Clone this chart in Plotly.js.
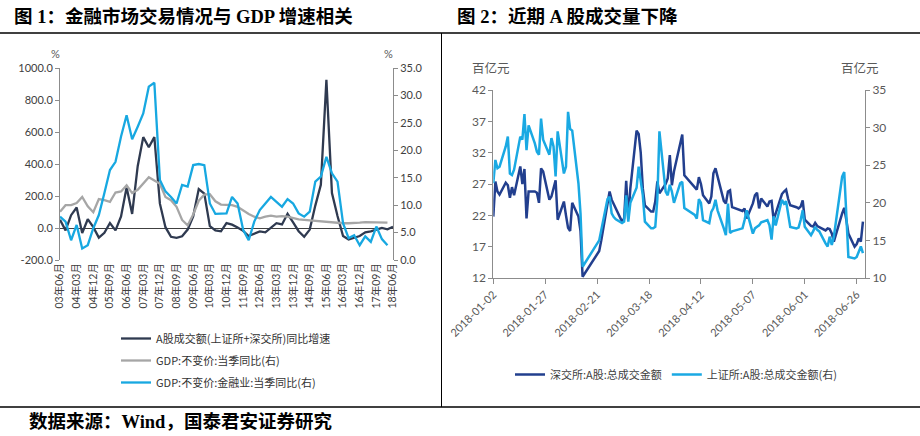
<!DOCTYPE html>
<html><head><meta charset="utf-8">
<script src="https://cdn.plot.ly/plotly-3.0.1.min.js"></script>
<style>html,body{margin:0;padding:0;background:#fff;}#chart{width:920px;height:436px;}</style>
</head><body><div id="chart"></div>
<script>
// ---------- Figure 1: quarterly ----------
const quarters = [
 "03年06月","03年09月","03年12月",
 "04年03月","04年06月","04年09月","04年12月",
 "05年03月","05年06月","05年09月","05年12月",
 "06年03月","06年06月","06年09月","06年12月",
 "07年03月","07年06月","07年09月","07年12月",
 "08年03月","08年06月","08年09月","08年12月",
 "09年03月","09年06月","09年09月","09年12月",
 "10年03月","10年06月","10年09月","10年12月",
 "11年03月","11年06月","11年09月","11年12月",
 "12年03月","12年06月","12年09月","12年12月",
 "13年03月","13年06月","13年09月","13年12月",
 "14年03月","14年06月","14年09月","14年12月",
 "15年03月","15年06月","15年09月","15年12月",
 "16年03月","16年06月","16年09月","16年12月",
 "17年03月","17年06月","17年09月","17年12月",
 "18年03月","18年06月"];
// A股成交额(上证所+深交所)同比增速, % (left axis)
const turnoverYoY = [52,-15,80,128,-32,55,5,-60,-30,31,
 -15,72,254,88,386,568,505,568,152,5,
 -55,-62,-52,-10,73,243,215,12,-15,-21,
 31,21,3,-18,-50,-33,-21,-27,0,30,
 22,89,35,-20,-55,-10,140,270,926,218,
 75,-50,-72,-62,-50,-27,-21,-10,0,-8,8];
// GDP:不变价:当季同比, % (right axis)
const gdpYoY = [8.8,10.0,10.0,10.4,11.5,9.8,8.7,11.1,10.9,10.6,
 12.3,12.5,13.6,12.2,12.8,14.0,15.1,14.5,13.9,11.5,
 10.9,9.7,7.3,6.3,8.3,10.8,11.9,12.0,10.7,10.1,
 10.0,10.0,9.7,9.0,8.4,7.9,7.6,7.9,8.1,7.9,
 8.0,7.9,7.6,7.4,7.3,7.2,7.1,7.0,7.0,6.9,
 6.8,6.7,6.7,6.7,6.8,6.9,6.9,6.8,6.8,6.8];
// GDP:不变价:金融业:当季同比, % (right axis)
const gdpFinYoY = [7.9,7.0,3.6,6.4,2.1,2.7,5.8,8.2,12.2,16.4,
 17.9,22.5,26.4,22.0,24.3,26.7,31.6,32.3,14.6,12.5,
 11.5,10.3,13.7,13.4,17.3,17.5,17.3,10.3,8.4,8.5,
 8.5,11.5,10.3,5.5,3.6,7.0,9.1,10.3,11.5,10.6,
 9.7,11.1,10.3,8.5,7.9,8.8,14.3,15.2,18.8,15.8,
 14.3,6.7,4.0,4.5,2.7,4.3,3.3,6.1,3.8,2.7];
const leftTickVals = [-200,0,200,400,600,800,1000];
const leftTickText = ["-200.0","0.0","200.0","400.0","600.0","800.0","1000.0"];
const rightTickVals = [0,5,10,15,20,25,30,35];
const rightTickText = ["0.0","5.0","10.0","15.0","20.0","25.0","30.0","35.0"];

// ---------- Figure 2: daily 2018 ----------
const tradeDays = [
 "01-02","01-03","01-04","01-05","01-08","01-09","01-10","01-11","01-12","01-15","01-16","01-17","01-18","01-19","01-22","01-23","01-24","01-25","01-26","01-29","01-30","01-31",
 "02-01","02-02","02-05","02-06","02-07","02-08","02-09","02-12","02-13","02-14","02-22","02-23","02-26","02-27","02-28",
 "03-01","03-02","03-05","03-06","03-07","03-08","03-09","03-12","03-13","03-14","03-15","03-16","03-19","03-20","03-21","03-22","03-23","03-26","03-27","03-28","03-29","03-30",
 "04-02","04-03","04-04","04-09","04-10","04-11","04-12","04-13","04-16","04-17","04-18","04-19","04-20","04-23","04-24","04-25","04-26","04-27",
 "05-02","05-03","05-04","05-07","05-08","05-09","05-10","05-11","05-14","05-15","05-16","05-17","05-18","05-21","05-22","05-23","05-24","05-25","05-28","05-29","05-30","05-31",
 "06-01","06-04","06-05","06-06","06-07","06-08","06-11","06-12","06-13","06-14","06-15","06-19","06-20","06-21","06-22","06-25","06-26","06-27","06-28","06-29"];
// 深交所:A股:总成交金额 (百亿元, left axis)
const szseAmount = [
 21.8,27.4,25.8,25.3,27.2,26.8,24.8,26.5,25.2,29.8,27.0,29.4,21.5,25.8,25.8,25.6,24.0,29.5,29.0,24.5,25.0,26.5,
 27.6,21.3,24.2,22.0,20.0,19.5,24.0,21.8,19.5,12.2,16.3,18.0,23.5,25.8,24.5,
 23.8,23.0,21.0,21.5,27.5,21.5,26.3,35.5,35.0,32.0,26.3,23.6,22.6,22.6,24.2,27.4,25.5,27.0,27.9,31.6,26.8,29.0,
 33.5,34.9,28.4,26.5,26.1,28.1,27.0,25.2,23.9,25.0,28.7,29.5,28.2,24.3,23.9,25.8,26.0,23.3,
 22.7,23.1,21.5,23.9,25.2,25.6,23.1,24.7,23.4,24.2,24.3,21.3,22.3,25.4,25.8,26.1,24.6,23.6,23.3,23.1,23.4,24.4,
 21.3,20.3,20.2,20.8,20.3,20.1,19.6,19.9,19.8,19.1,17.8,22.3,23.2,21.3,19.1,17.0,17.4,18.3,17.8,21.0];
// 上证所:A股:总成交金额 (百亿元, right axis)
const sseAmount = [
 22.6,25.7,24.6,24.8,27.5,28.8,23.9,23.7,24.4,28.8,28.4,31.8,27.0,30.3,27.9,26.8,26.4,31.2,28.4,26.4,28.6,27.5,
 23.5,29.5,23.9,24.8,32.1,29.8,29.6,22.6,18.6,11.5,15.0,16.3,20.5,20.8,18.6,
 18.1,17.8,17.3,17.5,21.0,17.5,20.0,22.0,24.8,23.0,21.0,17.5,16.6,16.6,16.8,20.5,29.5,21.5,21.0,22.4,21.5,20.0,
 22.6,22.8,19.3,18.4,17.9,20.5,20.0,17.7,17.3,18.8,19.3,20.4,19.0,16.6,15.7,19.9,16.0,16.2,
 16.6,17.7,19.0,15.9,16.6,16.8,17.0,17.4,17.7,17.0,15.1,18.2,17.0,20.4,19.9,20.2,18.6,16.8,16.6,16.7,17.7,19.0,
 16.8,15.7,16.2,16.8,16.4,16.2,14.6,14.2,15.5,14.4,15.5,23.5,24.1,17.7,12.8,12.6,12.8,13.5,14.2,13.3];
const dateTicks = ["2018-01-02","2018-01-27","2018-02-21","2018-03-18","2018-04-12","2018-05-07","2018-06-01","2018-06-26"];

// ---------- build ----------
const W = 920, H = 436;
const px = x => x / W, py = y => 1 - y / H;
const dates = tradeDays.map(d => "2018-" + d);
const qIndex = quarters.map((q, i) => i);          // category positions on the quarterly axis
const tickFont = "Lato, 'Noto Sans CJK SC', sans-serif";
const cjk = "'Noto Sans CJK SC', Lato, sans-serif";
const serif = "'Liberation Serif', 'Noto Sans CJK SC', serif";

const traces = [
 {x: qIndex, y: turnoverYoY, name: "A股成交额(上证所+深交所)同比增速", type: "scatter", mode: "lines",
  line: {color: "#2F3A50", width: 2.3}, xaxis: "x", yaxis: "y", legend: "legend", legendgroup: "a"},
 {x: qIndex.slice(0, gdpYoY.length), y: gdpYoY, name: "GDP:不变价:当季同比(右)", type: "scatter", mode: "lines",
  line: {color: "#A6A6A6", width: 2.3}, xaxis: "x", yaxis: "y2", legend: "legend", legendgroup: "b"},
 {x: qIndex.slice(0, gdpFinYoY.length), y: gdpFinYoY, name: "GDP:不变价:金融业:当季同比(右)", type: "scatter", mode: "lines",
  line: {color: "#17A8E1", width: 2.3}, xaxis: "x", yaxis: "y2", legend: "legend", legendgroup: "c"},
 {x: dates, y: szseAmount, name: "深交所:A股:总成交金额", type: "scatter", mode: "lines",
  line: {color: "#223F8E", width: 2.5}, xaxis: "x2", yaxis: "y3", legend: "legend2"},
 {x: dates, y: sseAmount, name: "上证所:A股:总成交金额(右)", type: "scatter", mode: "lines",
  line: {color: "#1AA9E3", width: 2.5}, xaxis: "x2", yaxis: "y4", legend: "legend2"}
];

const axisCommon = {showgrid: false, showline: true, linecolor: "#8C8C8C", linewidth: 1,
  ticks: "outside", ticklen: 4, tickcolor: "#8C8C8C", zeroline: false, fixedrange: true};

const qTickVals = qIndex.filter(i => i % 3 === 0);
const layout = {
 width: W, height: H, margin: {l: 0, r: 0, t: 0, b: 0},
 paper_bgcolor: "#fff", plot_bgcolor: "rgba(0,0,0,0)",
 font: {family: cjk, color: "#404040"},
 xaxis: {domain: [px(60), px(393)], anchor: "y", type: "linear", range: [0, quarters.length - 1],
   tickmode: "array", tickvals: qTickVals, ticktext: qTickVals.map(i => quarters[i]), tickangle: -90,
   showline: false, ticks: "", showgrid: false, zeroline: false,
   tickfont: {family: tickFont, size: 10.5, color: "#404040"}, fixedrange: true},
 yaxis: Object.assign({}, axisCommon, {domain: [py(260), py(68)], anchor: "x", range: [-200, 1000],
   tickvals: leftTickVals, ticktext: leftTickText, zeroline: true, zerolinecolor: "#404040", zerolinewidth: 1,
   tickfont: {family: tickFont, size: 11, color: "#404040"}}),
 yaxis2: Object.assign({}, axisCommon, {overlaying: "y", side: "right", anchor: "x", range: [0, 35],
   tickvals: rightTickVals, ticktext: rightTickText, tickfont: {family: tickFont, size: 11, color: "#404040"}}),
 xaxis2: Object.assign({}, axisCommon, {domain: [px(493.3), px(865)], anchor: "y3", type: "date",
   range: ["2018-01-02", "2018-06-30"], tickvals: dateTicks, ticktext: dateTicks, tickangle: -45, ticklen: 5,
   tickfont: {family: tickFont, size: 11, color: "#595959"}}),
 yaxis3: Object.assign({}, axisCommon, {domain: [py(278), py(90)], anchor: "x2", range: [12, 42],
   tickvals: [12,17,22,27,32,37,42], tickfont: {family: tickFont, size: 12, color: "#595959"}}),
 yaxis4: Object.assign({}, axisCommon, {overlaying: "y3", side: "right", anchor: "x2", range: [10, 35],
   tickvals: [10,15,20,25,30,35], tickfont: {family: tickFont, size: 12, color: "#595959"}}),
 legend: {x: px(116), y: py(324), xanchor: "left", yanchor: "top", orientation: "v",
   font: {family: cjk, size: 11, color: "#333"}, bgcolor: "rgba(0,0,0,0)", tracegroupgap: 3},
 legend2: {x: px(510), y: py(360), xanchor: "left", yanchor: "top", orientation: "h",
   font: {family: cjk, size: 11, color: "#404040"}, bgcolor: "rgba(0,0,0,0)"},
 shapes: [
  {type: "line", xref: "paper", yref: "paper", x0: 0, x1: 1, y0: py(33), y1: py(33), line: {color: "#000", width: 1.5}},
  {type: "line", xref: "paper", yref: "paper", x0: px(441.5), x1: px(441.5), y0: py(33), y1: py(407), line: {color: "#000", width: 1}},
  {type: "line", xref: "paper", yref: "paper", x0: 0, x1: 1, y0: py(407), y1: py(407), line: {color: "#000", width: 1.5}}
 ],
 annotations: [
  {text: "<b>图 1：金融市场交易情况与 GDP 增速相关</b>", xref: "paper", yref: "paper", x: px(12), y: py(16),
   xanchor: "left", yanchor: "middle", showarrow: false, font: {family: serif, size: 18.5, color: "#000"}},
  {text: "<b>图 2：近期 A 股成交量下降</b>", xref: "paper", yref: "paper", x: px(455), y: py(16),
   xanchor: "left", yanchor: "middle", showarrow: false, font: {family: serif, size: 18.5, color: "#000"}},
  {text: "<b>数据来源：Wind，国泰君安证券研究</b>", xref: "paper", yref: "paper", x: px(27), y: py(421),
   xanchor: "left", yanchor: "middle", showarrow: false, font: {family: serif, size: 18.5, color: "#000"}},
  {text: "%", xref: "paper", yref: "paper", x: px(55), y: py(53), showarrow: false, xanchor: "center", yanchor: "middle",
   font: {family: tickFont, size: 11, color: "#595959"}},
  {text: "%", xref: "paper", yref: "paper", x: px(388), y: py(53), showarrow: false, xanchor: "center", yanchor: "middle",
   font: {family: tickFont, size: 11, color: "#595959"}},
  {text: "百亿元", xref: "paper", yref: "paper", x: px(491), y: py(68), showarrow: false, xanchor: "center", yanchor: "middle",
   font: {family: cjk, size: 12.5, color: "#595959"}},
  {text: "百亿元", xref: "paper", yref: "paper", x: px(860), y: py(67), showarrow: false, xanchor: "center", yanchor: "middle",
   font: {family: cjk, size: 12.5, color: "#595959"}}
 ]
};

Plotly.newPlot("chart", traces, layout, {displayModeBar: false, staticPlot: true});
</script>
</body></html>
